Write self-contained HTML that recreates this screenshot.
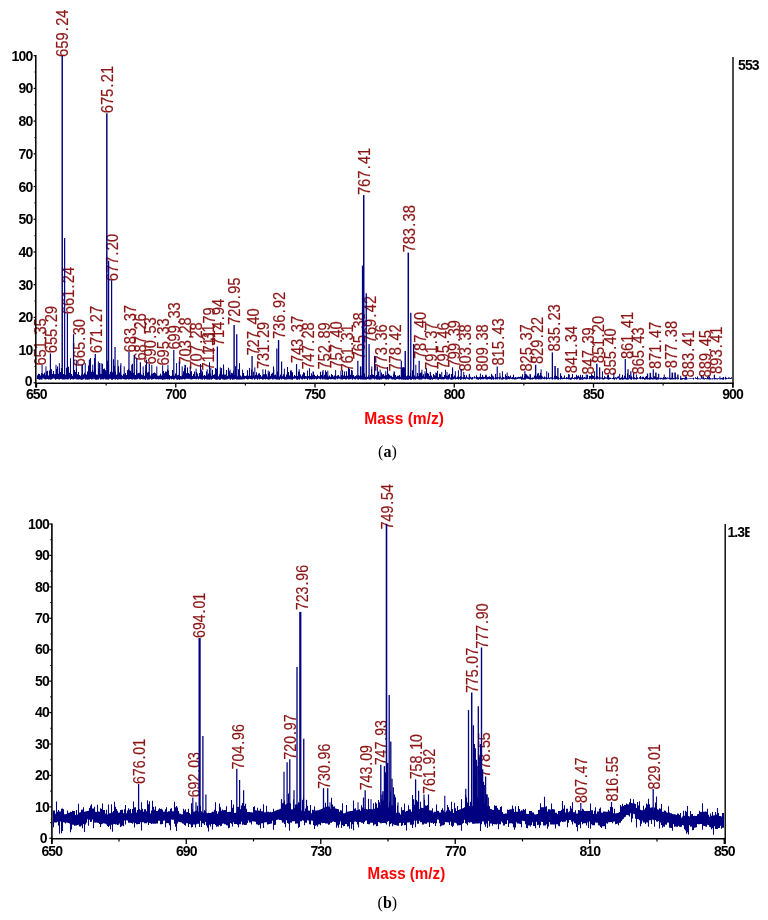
<!DOCTYPE html>
<html lang="en"><head><meta charset="utf-8"><title>Mass spectra</title>
<style>html,body{margin:0;padding:0;background:#fff}body{width:768px;height:920px;overflow:hidden}svg{display:block}</style>
</head><body>
<svg width="768" height="920" viewBox="0 0 768 920">
<defs><clipPath id="clipA"><rect x="730" y="50" width="30" height="30"/></clipPath>
<clipPath id="clipB"><rect x="720" y="515" width="29.6" height="30"/></clipPath></defs>
<rect width="768" height="920" fill="#fff"/>
<g id="chartA">
<g font-family='"Liberation Sans", sans-serif' font-size="16px" fill="#8b1515" stroke="#8b1515" stroke-width="0.2">
<text transform="translate(46.07 365.60) rotate(-90) scale(0.92 1)" dx="0 0 0 1.3 1.3 0">651.35</text>
<text transform="translate(57.08 353.30) rotate(-90) scale(0.92 1)" dx="0 0 0 1.3 1.3 0">655.29</text>
<text transform="translate(68.11 56.90) rotate(-90) scale(0.92 1)" dx="0 0 0 1.3 1.3 0">659.24</text>
<text transform="translate(73.70 314.20) rotate(-90) scale(0.92 1)" dx="0 0 0 1.3 1.3 0">661.24</text>
<text transform="translate(85.04 366.40) rotate(-90) scale(0.92 1)" dx="0 0 0 1.3 1.3 0">665.30</text>
<text transform="translate(101.71 353.30) rotate(-90) scale(0.92 1)" dx="0 0 0 1.3 1.3 0">671.27</text>
<text transform="translate(112.72 113.30) rotate(-90) scale(0.92 1)" dx="0 0 0 1.3 1.3 0">675.21</text>
<text transform="translate(118.28 281.20) rotate(-90) scale(0.92 1)" dx="0 0 0 1.3 1.3 0">677.20</text>
<text transform="translate(135.51 352.40) rotate(-90) scale(0.92 1)" dx="0 0 0 1.3 1.3 0">683.37</text>
<text transform="translate(146.38 360.60) rotate(-90) scale(0.92 1)" dx="0 0 0 1.3 1.3 0">687.26</text>
<text transform="translate(155.51 364.60) rotate(-90) scale(0.92 1)" dx="0 0 0 1.3 1.3 0">690.53</text>
<text transform="translate(168.92 365.60) rotate(-90) scale(0.92 1)" dx="0 0 0 1.3 1.3 0">695.33</text>
<text transform="translate(180.09 349.60) rotate(-90) scale(0.92 1)" dx="0 0 0 1.3 1.3 0">699.33</text>
<text transform="translate(191.13 364.60) rotate(-90) scale(0.92 1)" dx="0 0 0 1.3 1.3 0">703.28</text>
<text transform="translate(202.30 369.60) rotate(-90) scale(0.92 1)" dx="0 0 0 1.3 1.3 0">707.28</text>
<text transform="translate(213.56 370.60) rotate(-90) scale(0.92 1)" dx="0 0 0 1.3 1.3 0">711.31</text>
<text transform="translate(214.90 353.60) rotate(-90) scale(0.92 1)" dx="0 0 0 1.3 1.3 0">711.79</text>
<text transform="translate(223.70 346.10) rotate(-90) scale(0.92 1)" dx="0 0 0 1.3 1.3 0">714.94</text>
<text transform="translate(240.48 324.90) rotate(-90) scale(0.92 1)" dx="0 0 0 1.3 1.3 0">720.95</text>
<text transform="translate(258.50 355.60) rotate(-90) scale(0.92 1)" dx="0 0 0 1.3 1.3 0">727.40</text>
<text transform="translate(269.37 369.10) rotate(-90) scale(0.92 1)" dx="0 0 0 1.3 1.3 0">731.29</text>
<text transform="translate(285.09 339.10) rotate(-90) scale(0.92 1)" dx="0 0 0 1.3 1.3 0">736.92</text>
<text transform="translate(303.11 363.30) rotate(-90) scale(0.92 1)" dx="0 0 0 1.3 1.3 0">743.37</text>
<text transform="translate(314.03 369.60) rotate(-90) scale(0.92 1)" dx="0 0 0 1.3 1.3 0">747.28</text>
<text transform="translate(329.70 369.60) rotate(-90) scale(0.92 1)" dx="0 0 0 1.3 1.3 0">752.89</text>
<text transform="translate(342.30 368.60) rotate(-90) scale(0.92 1)" dx="0 0 0 1.3 1.3 0">757.40</text>
<text transform="translate(353.22 371.60) rotate(-90) scale(0.92 1)" dx="0 0 0 1.3 1.3 0">761.31</text>
<text transform="translate(364.59 359.60) rotate(-90) scale(0.92 1)" dx="0 0 0 1.3 1.3 0">765.38</text>
<text transform="translate(370.26 195.10) rotate(-90) scale(0.92 1)" dx="0 0 0 1.3 1.3 0">767.41</text>
<text transform="translate(375.88 343.30) rotate(-90) scale(0.92 1)" dx="0 0 0 1.3 1.3 0">769.42</text>
<text transform="translate(386.88 371.60) rotate(-90) scale(0.92 1)" dx="0 0 0 1.3 1.3 0">773.36</text>
<text transform="translate(401.02 371.60) rotate(-90) scale(0.92 1)" dx="0 0 0 1.3 1.3 0">778.42</text>
<text transform="translate(414.87 252.50) rotate(-90) scale(0.92 1)" dx="0 0 0 1.3 1.3 0">783.38</text>
<text transform="translate(426.10 359.10) rotate(-90) scale(0.92 1)" dx="0 0 0 1.3 1.3 0">787.40</text>
<text transform="translate(437.19 369.90) rotate(-90) scale(0.92 1)" dx="0 0 0 1.3 1.3 0">791.37</text>
<text transform="translate(448.61 369.60) rotate(-90) scale(0.92 1)" dx="0 0 0 1.3 1.3 0">795.46</text>
<text transform="translate(459.59 367.40) rotate(-90) scale(0.92 1)" dx="0 0 0 1.3 1.3 0">799.39</text>
<text transform="translate(470.74 371.60) rotate(-90) scale(0.92 1)" dx="0 0 0 1.3 1.3 0">803.38</text>
<text transform="translate(487.50 371.60) rotate(-90) scale(0.92 1)" dx="0 0 0 1.3 1.3 0">809.38</text>
<text transform="translate(504.40 365.60) rotate(-90) scale(0.92 1)" dx="0 0 0 1.3 1.3 0">815.43</text>
<text transform="translate(532.16 371.60) rotate(-90) scale(0.92 1)" dx="0 0 0 1.3 1.3 0">825.37</text>
<text transform="translate(542.92 364.10) rotate(-90) scale(0.92 1)" dx="0 0 0 1.3 1.3 0">829.22</text>
<text transform="translate(559.70 351.60) rotate(-90) scale(0.92 1)" dx="0 0 0 1.3 1.3 0">835.23</text>
<text transform="translate(576.77 373.30) rotate(-90) scale(0.92 1)" dx="0 0 0 1.3 1.3 0">841.34</text>
<text transform="translate(593.67 374.60) rotate(-90) scale(0.92 1)" dx="0 0 0 1.3 1.3 0">847.39</text>
<text transform="translate(604.31 363.30) rotate(-90) scale(0.92 1)" dx="0 0 0 1.3 1.3 0">851.20</text>
<text transform="translate(616.04 375.60) rotate(-90) scale(0.92 1)" dx="0 0 0 1.3 1.3 0">855.40</text>
<text transform="translate(632.83 359.10) rotate(-90) scale(0.92 1)" dx="0 0 0 1.3 1.3 0">861.41</text>
<text transform="translate(644.06 374.60) rotate(-90) scale(0.92 1)" dx="0 0 0 1.3 1.3 0">865.43</text>
<text transform="translate(660.93 369.10) rotate(-90) scale(0.92 1)" dx="0 0 0 1.3 1.3 0">871.47</text>
<text transform="translate(677.44 368.30) rotate(-90) scale(0.92 1)" dx="0 0 0 1.3 1.3 0">877.38</text>
<text transform="translate(694.28 377.40) rotate(-90) scale(0.92 1)" dx="0 0 0 1.3 1.3 0">883.41</text>
<text transform="translate(711.16 377.40) rotate(-90) scale(0.92 1)" dx="0 0 0 1.3 1.3 0">889.45</text>
<text transform="translate(722.22 373.90) rotate(-90) scale(0.92 1)" dx="0 0 0 1.3 1.3 0">893.41</text>
</g>
<path d="M37.5 378.96V375.16M38.5 379.28V373.86M39.5 379.66V373.95M40.5 379.60V375.43M41.5 379.56V372.88M42.5 378.62V373.55M43.5 378.59V374.33M44.5 379.37V372.77M45.5 379.35V375.27M46.5 379.04V371.53M47.5 379.08V370.72M48.5 379.47V375.47M49.5 379.34V370.48M50.5 379.36V374.14M51.5 379.42V369.34M52.5 378.70V373.89M53.5 378.59V371.07M54.5 378.84V374.26M55.5 379.66V374.02M56.5 379.05V369.06M57.5 378.91V366.47M58.5 379.18V373.71M59.5 379.16V368.30M60.5 378.90V372.03M61.5 378.77V368.09M62.5 378.94V374.37M63.5 379.51V374.11M64.5 378.83V375.47M65.5 379.26V374.83M66.5 379.19V367.66M67.5 378.77V372.68M68.5 379.23V366.65M69.5 378.61V372.68M70.5 379.44V375.07M71.5 379.03V374.03M72.5 379.22V375.66M73.5 378.62V373.76M74.5 379.00V370.11M75.5 378.68V372.06M76.5 378.79V368.60M77.5 379.58V374.32M78.5 379.62V372.03M79.5 379.31V375.12M80.5 379.53V375.67M81.5 379.67V374.44M82.5 379.53V364.95M83.5 379.29V374.50M84.5 378.57V372.80M85.5 379.60V374.03M86.5 379.40V374.51M87.5 379.67V371.61M88.5 379.53V365.39M89.5 379.10V371.76M90.5 378.91V357.89M91.5 379.51V371.76M92.5 378.81V370.04M93.5 378.78V371.78M94.5 378.78V357.95M95.5 379.44V369.16M96.5 379.67V374.47M97.5 379.41V374.73M98.5 379.19V368.25M99.5 378.61V363.06M100.5 379.44V373.82M101.5 378.99V374.12M102.5 379.15V363.80M103.5 379.60V368.91M104.5 378.81V368.45M105.5 379.50V370.27M106.5 378.79V370.89M107.5 379.24V360.65M108.5 379.51V364.39M109.5 378.67V374.36M110.5 378.76V371.67M111.5 379.30V359.11M112.5 379.68V372.24M113.5 379.10V359.15M114.5 378.71V365.87M115.5 379.41V371.40M116.5 379.03V374.86M117.5 379.55V374.25M118.5 379.18V366.27M119.5 379.22V372.61M120.5 379.10V365.54M121.5 379.20V374.82M122.5 378.79V375.68M123.5 378.88V374.12M124.5 379.11V374.62M125.5 379.58V373.11M126.5 379.39V374.91M127.5 379.06V370.33M128.5 379.20V368.68M129.5 379.12V370.39M130.5 379.09V370.63M131.5 378.90V372.70M132.5 379.40V363.83M133.5 378.74V372.73M134.5 379.20V375.41M135.5 379.62V375.04M136.5 378.68V369.44M137.5 378.95V373.53M138.5 378.60V373.01M139.5 379.25V372.81M140.5 378.75V372.70M141.5 379.11V374.50M142.5 379.34V375.26M143.5 379.07V372.65M144.5 379.32V375.84M145.5 379.63V370.75M146.5 378.59V359.85M147.5 379.65V372.54M148.5 379.55V371.77M149.5 378.77V373.11M150.5 378.65V375.49M151.5 379.60V373.80M152.5 379.22V373.86M153.5 378.98V373.10M154.5 378.73V372.61M155.5 379.18V373.37M156.5 378.65V374.33M157.5 379.10V375.63M158.5 379.52V375.70M159.5 379.35V375.43M160.5 379.37V373.77M161.5 379.31V375.52M162.5 379.68V375.32M163.5 379.48V371.05M164.5 379.58V373.31M165.5 379.14V371.54M166.5 379.12V371.71M167.5 379.31V369.57M168.5 378.98V370.61M169.5 379.64V375.12M170.5 378.86V375.94M171.5 379.60V375.68M172.5 378.94V370.12M173.5 379.37V375.47M174.5 379.19V375.73M175.5 378.59V373.43M176.5 378.60V375.50M177.5 379.70V375.19M178.5 379.13V374.86M179.5 379.69V374.79M180.5 379.25V375.97M181.5 379.35V376.17M182.5 379.10V374.59M183.5 378.89V371.13M184.5 379.33V368.32M185.5 378.88V365.06M186.5 378.75V373.33M187.5 378.87V367.41M188.5 379.10V373.03M189.5 378.78V373.98M190.5 378.68V371.52M191.5 379.44V371.17M192.5 379.29V375.94M193.5 379.06V374.03M194.5 378.93V371.46M195.5 378.79V376.32M196.5 379.09V371.91M197.5 378.86V373.41M198.5 379.40V376.15M199.5 378.86V372.97M200.5 379.26V363.97M201.5 378.83V374.19M202.5 379.61V371.56M203.5 378.85V375.71M204.5 379.69V374.88M205.5 378.94V375.69M206.5 379.37V371.53M207.5 379.17V375.19M208.5 379.47V373.52M209.5 379.68V362.29M210.5 378.60V373.52M211.5 379.46V375.74M212.5 379.04V369.77M213.5 378.62V375.09M214.5 379.12V374.34M215.5 379.44V367.94M216.5 379.67V368.80M217.5 379.19V375.22M218.5 379.31V376.13M219.5 379.70V374.35M220.5 379.56V371.29M221.5 378.67V368.08M222.5 379.25V374.38M223.5 379.29V364.45M224.5 379.65V374.38M225.5 379.38V374.44M226.5 379.40V369.97M227.5 379.28V375.66M228.5 378.78V367.65M229.5 378.63V371.25M230.5 379.64V374.79M231.5 378.84V372.72M232.5 379.64V373.23M233.5 379.16V370.57M234.5 378.86V375.10M235.5 378.95V366.24M236.5 379.25V375.10M237.5 379.46V376.20M238.5 379.45V369.25M239.5 379.19V367.42M240.5 379.60V375.57M241.5 379.43V376.38M242.5 378.69V375.21M243.5 379.23V372.91M244.5 379.32V375.69M245.5 378.60V375.94M246.5 378.98V375.39M247.5 379.39V370.36M248.5 379.19V375.65M249.5 378.71V368.07M250.5 378.89V375.83M251.5 379.03V369.45M252.5 378.65V375.68M253.5 378.59V371.63M254.5 379.52V376.37M255.5 378.63V374.99M256.5 378.83V372.28M257.5 379.66V375.31M258.5 378.65V373.54M259.5 379.55V373.33M260.5 378.91V375.12M261.5 379.10V376.48M262.5 379.45V375.72M263.5 379.36V374.23M264.5 378.97V374.36M265.5 379.43V369.58M266.5 378.90V374.37M267.5 379.13V376.61M268.5 379.41V373.03M269.5 379.44V371.53M270.5 379.22V375.87M271.5 378.79V373.71M272.5 379.47V372.80M273.5 378.77V366.49M274.5 378.83V375.20M275.5 379.14V374.43M276.5 379.23V376.16M277.5 379.53V371.52M278.5 378.59V376.19M279.5 379.63V376.57M280.5 378.69V374.58M281.5 378.64V371.41M282.5 378.64V376.26M283.5 378.94V374.26M284.5 379.32V375.83M285.5 379.38V376.70M286.5 379.56V374.47M287.5 379.29V367.09M288.5 379.21V371.98M289.5 379.28V375.61M290.5 379.29V370.80M291.5 379.23V371.37M292.5 379.65V372.16M293.5 378.65V376.58M294.5 378.68V374.99M295.5 378.61V376.10M296.5 378.88V373.65M297.5 379.70V376.10M298.5 378.98V371.77M299.5 379.43V371.45M300.5 378.61V374.53M301.5 379.21V376.16M302.5 379.49V374.61M303.5 378.76V372.32M304.5 379.33V372.71M305.5 378.81V375.92M306.5 378.84V376.30M307.5 379.66V376.61M308.5 378.58V375.89M309.5 379.40V368.22M310.5 379.13V375.89M311.5 379.43V373.21M312.5 378.93V375.35M313.5 378.94V372.08M314.5 379.37V374.86M315.5 378.86V375.93M316.5 379.42V376.22M317.5 379.04V374.77M318.5 378.57V375.89M319.5 378.78V376.26M320.5 379.58V371.72M321.5 378.74V374.94M322.5 379.37V371.58M323.5 378.59V376.37M324.5 379.28V374.70M325.5 379.40V370.22M326.5 379.58V371.90M327.5 379.45V375.41M328.5 379.47V376.49M329.5 378.96V375.47M330.5 379.33V376.79M331.5 379.34V374.06M332.5 379.08V375.04M333.5 379.25V376.59M334.5 379.60V375.40M335.5 379.23V375.27M336.5 378.62V376.14M337.5 379.29V375.57M338.5 378.57V374.91M339.5 378.87V376.39M340.5 378.67V376.82M341.5 379.24V375.02M342.5 379.52V370.34M343.5 378.97V375.62M344.5 378.99V371.59M345.5 379.53V375.74M346.5 378.65V375.71M347.5 378.78V375.75M348.5 379.56V367.88M349.5 379.15V368.73M350.5 379.26V374.84M351.5 378.76V369.92M352.5 379.45V375.16M353.5 378.76V375.03M354.5 379.25V376.40M355.5 379.56V376.05M356.5 378.68V375.31M357.5 378.84V375.67M358.5 379.57V375.08M359.5 378.99V375.70M360.5 379.04V375.99M361.5 379.19V375.48M362.5 379.00V376.85M363.5 378.83V376.40M364.5 379.50V373.54M365.5 379.55V376.68M366.5 379.20V376.72M367.5 378.98V376.83M368.5 378.82V375.36M369.5 379.13V376.81M370.5 379.55V374.91M371.5 378.87V368.99M372.5 378.58V374.30M373.5 378.66V374.91M374.5 378.64V375.27M375.5 378.84V376.20M376.5 379.39V375.06M377.5 379.13V374.47M378.5 379.40V371.57M379.5 379.66V376.29M380.5 378.63V376.62M381.5 379.51V372.53M382.5 379.10V374.58M383.5 378.71V373.95M384.5 378.70V375.76M385.5 378.98V374.91M386.5 379.40V375.32M387.5 379.29V367.12M388.5 379.50V373.77M389.5 378.77V374.80M390.5 378.58V375.67M391.5 379.34V375.63M392.5 379.53V376.93M393.5 379.12V373.84M394.5 379.44V371.98M395.5 379.70V374.90M396.5 379.29V376.79M397.5 379.03V375.82M398.5 379.16V375.74M399.5 379.42V375.11M400.5 378.97V376.63M401.5 379.24V370.08M402.5 378.97V376.63M403.5 378.97V376.32M404.5 378.87V375.14M405.5 379.65V375.21M406.5 379.43V376.22M407.5 379.69V375.48M408.5 379.54V375.16M409.5 379.12V375.83M410.5 379.50V373.02M411.5 379.64V376.45M412.5 378.89V370.23M413.5 378.85V375.38M414.5 379.19V375.59M415.5 379.44V376.86M416.5 378.85V376.40M417.5 378.89V373.00M418.5 379.20V375.98M419.5 379.40V373.82M420.5 379.45V372.74M421.5 379.40V372.62M422.5 378.63V375.63M423.5 378.70V374.33M424.5 378.67V376.63M425.5 378.94V373.45M426.5 378.74V368.19M427.5 379.20V373.11M428.5 379.35V373.85M429.5 379.61V375.96M430.5 379.67V372.51M431.5 379.31V375.44M432.5 379.65V377.14M433.5 378.91V373.91M434.5 379.03V375.25M435.5 378.77V375.76M436.5 378.71V373.05M437.5 379.58V370.76M438.5 379.66V376.90M439.5 378.98V373.79M440.5 379.37V374.22M441.5 378.84V377.17M442.5 379.22V376.81M443.5 379.38V376.93M444.5 379.34V374.95M445.5 378.73V369.74M446.5 379.23V375.71M447.5 379.31V376.17M448.5 379.45V374.76M449.5 378.77V373.66M450.5 379.47V377.47M451.5 379.70V374.02M452.5 378.79V376.75M453.5 379.31V376.77M454.5 378.63V375.53M455.5 378.90V377.23M456.5 378.98V377.41M457.5 378.91V376.43M458.5 379.30V375.01M459.5 378.69V377.05M460.5 379.67V376.37M461.5 378.67V377.28M462.5 378.69V377.14M463.5 379.10V377.04M464.5 378.96V375.06M465.5 379.52V377.27M466.5 378.86V375.30M467.5 378.82V377.16M468.5 379.17V377.59M469.5 379.48V374.37M470.5 378.74V376.85M471.5 379.42V377.56M472.5 379.52V377.09M473.5 378.59V377.52M474.5 378.61V376.32M475.5 378.58V377.28M476.5 379.21V375.33M477.5 379.58V376.96M478.5 379.66V377.29M479.5 378.91V376.78M480.5 379.17V376.98M481.5 379.24V377.03M482.5 379.21V375.10M483.5 379.22V376.85M484.5 378.70V376.89M485.5 378.73V375.45M486.5 379.18V375.55M487.5 379.59V377.02M488.5 378.89V376.83M489.5 379.22V376.18M490.5 379.23V377.04M491.5 379.49V375.15M492.5 379.26V375.39M493.5 379.66V376.62M494.5 378.81V377.63M495.5 379.59V374.12M496.5 378.88V377.17M497.5 378.76V377.05M498.5 378.62V377.34M499.5 379.25V377.01M500.5 378.58V376.45M501.5 379.39V377.78M502.5 379.22V377.83M503.5 379.30V377.01M504.5 378.86V377.58M505.5 379.45V374.22M506.5 379.46V376.08M507.5 378.78V376.94M508.5 379.06V375.98M509.5 379.30V376.72M510.5 378.77V375.48M511.5 379.08V377.52M512.5 379.30V376.89M513.5 379.27V374.77M514.5 379.49V377.38M515.5 379.38V377.04M516.5 379.15V377.53M517.5 378.95V377.15M518.5 378.73V376.81M519.5 378.67V376.94M520.5 378.75V376.54M521.5 379.69V376.73M522.5 379.42V374.19M523.5 379.43V377.74M524.5 379.53V376.27M525.5 379.51V373.99M526.5 378.81V374.32M527.5 378.80V375.52M528.5 378.91V376.51M529.5 379.20V377.08M530.5 379.40V374.46M531.5 379.14V377.77M532.5 379.54V377.41M533.5 379.09V377.38M534.5 378.74V375.42M535.5 378.94V377.31M536.5 379.22V376.31M537.5 378.98V373.65M538.5 379.01V376.80M539.5 379.32V375.57M540.5 379.15V372.85M541.5 378.88V375.43M542.5 378.72V376.40M543.5 379.10V377.44M544.5 379.20V376.58M545.5 378.76V377.36M546.5 379.24V377.07M547.5 379.12V377.67M548.5 378.80V372.68M549.5 379.36V377.63M550.5 378.81V377.29M551.5 378.69V377.20M552.5 379.36V377.93M553.5 378.65V377.78M554.5 378.80V376.04M555.5 379.00V374.62M556.5 379.02V376.00M557.5 378.94V376.65M558.5 379.58V377.19M559.5 378.82V377.96M560.5 379.28V374.60M561.5 379.06V375.92M562.5 379.22V377.69M563.5 378.97V377.55M564.5 379.05V375.58M565.5 378.78V377.89M566.5 379.19V377.06M567.5 379.03V377.61M568.5 379.16V374.17M569.5 378.97V377.91M570.5 379.68V377.87M571.5 379.56V377.32M572.5 378.71V374.03M573.5 378.88V378.01M574.5 379.49V377.28M575.5 378.89V377.25M576.5 379.60V374.64M577.5 379.18V376.13M578.5 378.60V375.38M579.5 379.68V377.02M580.5 379.61V376.01M581.5 379.51V377.32M582.5 379.63V375.07M583.5 379.20V377.48M584.5 378.79V376.88M585.5 378.98V377.42M586.5 378.81V377.68M587.5 379.06V374.67M588.5 378.59V378.00M589.5 379.32V376.06M590.5 378.75V375.89M591.5 379.21V376.71M592.5 378.92V375.32M593.5 378.78V376.01M594.5 379.40V378.08M595.5 378.77V377.51M596.5 378.75V375.84M597.5 379.05V376.07M598.5 378.78V377.27M599.5 379.31V376.03M600.5 378.79V377.56M601.5 378.64V377.38M602.5 378.93V377.52M603.5 379.41V377.90M604.5 379.18V376.21M605.5 378.82V377.34M606.5 378.68V377.56M607.5 379.16V375.25M608.5 379.48V377.93M609.5 379.29V377.45M610.5 379.11V377.74M611.5 378.57V378.08M612.5 378.98V378.02M613.5 379.02V377.01M614.5 379.68V377.64M615.5 378.71V377.21M616.5 379.40V377.61M617.5 378.62V376.72M618.5 378.60V376.28M619.5 379.47V378.10M620.5 379.64V378.06M621.5 379.18V377.35M622.5 379.63V374.86M623.5 379.56V377.79M624.5 379.06V375.77M625.5 378.94V376.17M626.5 379.52V377.75M627.5 379.45V373.24M628.5 379.30V377.90M629.5 378.75V374.95M630.5 378.89V377.46M631.5 379.64V376.19M632.5 378.63V377.50M633.5 379.03V376.96M634.5 379.33V377.18M635.5 379.15V378.06M636.5 379.54V377.97M637.5 378.88V377.29M638.5 378.64V378.15M639.5 378.71V377.37M640.5 379.19V376.06M641.5 378.74V377.39M642.5 379.31V376.84M643.5 378.99V376.82M644.5 379.64V378.00M645.5 379.54V376.75M646.5 379.23V375.94M647.5 378.74V377.97M648.5 379.14V378.06M649.5 379.57V377.45M650.5 378.68V375.00M651.5 379.16V377.17M652.5 379.47V378.02M653.5 378.56V377.43M654.5 379.37V376.31M655.5 378.87V376.38M656.5 379.68V377.48M657.5 379.54V377.14M658.5 379.10V377.62M659.5 378.66V377.94M660.5 379.54V377.85M661.5 378.89V377.71M662.5 379.60V378.24M663.5 379.39V377.10M664.5 378.89V377.86M665.5 379.47V377.06M666.5 379.24V377.80M667.5 378.78V377.57M668.5 378.72V377.75M669.5 378.66V378.34M670.5 379.40V377.75M671.5 379.28V377.79M672.5 379.02V378.12M673.5 379.19V378.03M674.5 378.89V378.31M675.5 379.33V377.03M676.5 378.85V377.44M677.5 378.61V377.85M678.5 379.10V378.09M679.5 378.60V378.41M680.5 379.58V378.32M681.5 379.67V377.93M682.5 379.48V378.02M683.5 379.04V378.09M684.5 379.58V378.04M685.5 379.65V376.52M686.5 379.13V378.19M687.5 379.24V378.41M688.5 378.72V378.15M689.5 378.85V378.17M690.5 378.63V378.05M691.5 378.74V378.27M692.5 378.63V378.29M693.5 379.43V377.73M694.5 378.58V378.27M695.5 378.77V377.34M696.5 379.11V377.92M697.5 379.42V376.51M698.5 379.29V378.16M699.5 379.21V378.47M700.5 379.54V378.49M701.5 378.63V375.71M702.5 378.69V377.41M703.5 378.97V377.25M704.5 379.39V378.13M705.5 378.99V378.00M706.5 379.21V378.22M707.5 379.35V377.04M708.5 379.02V377.88M709.5 379.39V376.85M710.5 379.53V378.21M711.5 379.37V378.43M712.5 379.42V378.35M713.5 378.74V378.21M714.5 378.96V377.57M715.5 379.18V378.12M716.5 379.17V378.17M717.5 379.45V378.37M718.5 379.03V378.29M719.5 378.72V378.31M720.5 379.14V378.20M721.5 379.36V377.96M722.5 379.62V377.85M723.5 379.63V376.92M724.5 378.86V378.26M725.5 378.61V378.38M726.5 379.32V377.85M727.5 379.00V378.14M728.5 379.11V377.40M729.5 378.84V377.45M730.5 378.89V378.08M731.5 378.71V377.17" fill="none" stroke="#000080" stroke-width="1.08"/>
<line x1="42.07" y1="379.50" x2="42.07" y2="364.75" stroke="#000080" stroke-width="1.00"/>
<line x1="45.97" y1="379.50" x2="45.97" y2="366.38" stroke="#000080" stroke-width="1.00"/>
<line x1="50.42" y1="379.50" x2="50.42" y2="353.38" stroke="#000080" stroke-width="1.20"/>
<line x1="56.00" y1="379.50" x2="56.00" y2="364.75" stroke="#000080" stroke-width="1.00"/>
<line x1="59.34" y1="379.50" x2="59.34" y2="363.12" stroke="#000080" stroke-width="1.00"/>
<line x1="62.23" y1="379.50" x2="62.23" y2="56.00" stroke="#000080" stroke-width="1.45"/>
<line x1="64.63" y1="379.50" x2="64.63" y2="238.00" stroke="#000080" stroke-width="1.20"/>
<line x1="67.41" y1="379.50" x2="67.41" y2="313.40" stroke="#000080" stroke-width="1.20"/>
<line x1="70.48" y1="379.50" x2="70.48" y2="358.25" stroke="#000080" stroke-width="1.00"/>
<line x1="73.54" y1="379.50" x2="73.54" y2="334.20" stroke="#000080" stroke-width="1.20"/>
<line x1="76.33" y1="379.50" x2="76.33" y2="359.88" stroke="#000080" stroke-width="1.00"/>
<line x1="81.90" y1="379.50" x2="81.90" y2="364.75" stroke="#000080" stroke-width="1.00"/>
<line x1="85.24" y1="379.50" x2="85.24" y2="363.12" stroke="#000080" stroke-width="1.00"/>
<line x1="89.42" y1="379.50" x2="89.42" y2="359.55" stroke="#000080" stroke-width="1.20"/>
<line x1="92.76" y1="379.50" x2="92.76" y2="364.75" stroke="#000080" stroke-width="1.00"/>
<line x1="95.26" y1="379.50" x2="95.26" y2="354.02" stroke="#000080" stroke-width="1.30"/>
<line x1="98.33" y1="379.50" x2="98.33" y2="361.50" stroke="#000080" stroke-width="1.00"/>
<line x1="101.11" y1="379.50" x2="101.11" y2="363.12" stroke="#000080" stroke-width="1.00"/>
<line x1="106.82" y1="379.50" x2="106.82" y2="113.20" stroke="#000080" stroke-width="1.45"/>
<line x1="108.63" y1="379.50" x2="108.63" y2="260.75" stroke="#000080" stroke-width="1.20"/>
<line x1="111.61" y1="379.50" x2="111.61" y2="280.25" stroke="#000080" stroke-width="1.20"/>
<line x1="115.04" y1="379.50" x2="115.04" y2="346.88" stroke="#000080" stroke-width="1.20"/>
<line x1="117.82" y1="379.50" x2="117.82" y2="359.88" stroke="#000080" stroke-width="1.00"/>
<line x1="120.89" y1="379.50" x2="120.89" y2="363.12" stroke="#000080" stroke-width="1.00"/>
<line x1="124.23" y1="379.50" x2="124.23" y2="366.38" stroke="#000080" stroke-width="1.00"/>
<line x1="128.96" y1="379.50" x2="128.96" y2="351.75" stroke="#000080" stroke-width="1.20"/>
<line x1="131.75" y1="379.50" x2="131.75" y2="364.75" stroke="#000080" stroke-width="1.00"/>
<line x1="134.25" y1="379.50" x2="134.25" y2="355.00" stroke="#000080" stroke-width="1.30"/>
<line x1="136.76" y1="379.50" x2="136.76" y2="358.25" stroke="#000080" stroke-width="1.20"/>
<line x1="140.38" y1="379.50" x2="140.38" y2="362.15" stroke="#000080" stroke-width="1.20"/>
<line x1="143.17" y1="379.50" x2="143.17" y2="366.38" stroke="#000080" stroke-width="1.00"/>
<line x1="145.67" y1="379.50" x2="145.67" y2="364.75" stroke="#000080" stroke-width="1.00"/>
<line x1="149.29" y1="379.50" x2="149.29" y2="364.10" stroke="#000080" stroke-width="1.20"/>
<line x1="151.80" y1="379.50" x2="151.80" y2="364.75" stroke="#000080" stroke-width="1.00"/>
<line x1="156.81" y1="379.50" x2="156.81" y2="366.38" stroke="#000080" stroke-width="1.00"/>
<line x1="162.66" y1="379.50" x2="162.66" y2="365.40" stroke="#000080" stroke-width="1.00"/>
<line x1="167.95" y1="379.50" x2="167.95" y2="364.75" stroke="#000080" stroke-width="1.00"/>
<line x1="173.80" y1="379.50" x2="173.80" y2="350.12" stroke="#000080" stroke-width="1.20"/>
<line x1="176.59" y1="379.50" x2="176.59" y2="363.12" stroke="#000080" stroke-width="1.00"/>
<line x1="179.37" y1="379.50" x2="179.37" y2="361.50" stroke="#000080" stroke-width="1.20"/>
<line x1="182.16" y1="379.50" x2="182.16" y2="366.38" stroke="#000080" stroke-width="1.00"/>
<line x1="184.94" y1="379.50" x2="184.94" y2="364.75" stroke="#000080" stroke-width="1.00"/>
<line x1="190.23" y1="379.50" x2="190.23" y2="366.38" stroke="#000080" stroke-width="1.00"/>
<line x1="196.08" y1="379.50" x2="196.08" y2="368.65" stroke="#000080" stroke-width="1.00"/>
<line x1="201.65" y1="379.50" x2="201.65" y2="369.62" stroke="#000080" stroke-width="1.00"/>
<line x1="207.22" y1="379.50" x2="207.22" y2="369.30" stroke="#000080" stroke-width="1.00"/>
<line x1="210.84" y1="379.50" x2="210.84" y2="368.00" stroke="#000080" stroke-width="1.00"/>
<line x1="217.36" y1="379.50" x2="217.36" y2="346.55" stroke="#000080" stroke-width="1.30"/>
<line x1="220.31" y1="379.50" x2="220.31" y2="367.35" stroke="#000080" stroke-width="1.00"/>
<line x1="223.65" y1="379.50" x2="223.65" y2="368.65" stroke="#000080" stroke-width="1.00"/>
<line x1="230.06" y1="379.50" x2="230.06" y2="369.62" stroke="#000080" stroke-width="1.00"/>
<line x1="234.10" y1="379.50" x2="234.10" y2="325.10" stroke="#000080" stroke-width="1.40"/>
<line x1="236.74" y1="379.50" x2="236.74" y2="334.20" stroke="#000080" stroke-width="1.30"/>
<line x1="239.53" y1="379.50" x2="239.53" y2="363.12" stroke="#000080" stroke-width="1.00"/>
<line x1="242.59" y1="379.50" x2="242.59" y2="369.62" stroke="#000080" stroke-width="1.00"/>
<line x1="252.06" y1="379.50" x2="252.06" y2="355.98" stroke="#000080" stroke-width="1.30"/>
<line x1="254.84" y1="379.50" x2="254.84" y2="367.35" stroke="#000080" stroke-width="1.00"/>
<line x1="262.92" y1="379.50" x2="262.92" y2="369.30" stroke="#000080" stroke-width="1.00"/>
<line x1="268.21" y1="379.50" x2="268.21" y2="370.60" stroke="#000080" stroke-width="1.00"/>
<line x1="273.78" y1="379.50" x2="273.78" y2="369.62" stroke="#000080" stroke-width="1.00"/>
<line x1="276.85" y1="379.50" x2="276.85" y2="348.50" stroke="#000080" stroke-width="1.20"/>
<line x1="278.57" y1="379.50" x2="278.57" y2="340.05" stroke="#000080" stroke-width="1.40"/>
<line x1="281.58" y1="379.50" x2="281.58" y2="361.50" stroke="#000080" stroke-width="1.20"/>
<line x1="284.37" y1="379.50" x2="284.37" y2="368.65" stroke="#000080" stroke-width="1.00"/>
<line x1="291.05" y1="379.50" x2="291.05" y2="369.95" stroke="#000080" stroke-width="1.00"/>
<line x1="296.54" y1="379.50" x2="296.54" y2="364.10" stroke="#000080" stroke-width="1.20"/>
<line x1="299.13" y1="379.50" x2="299.13" y2="369.30" stroke="#000080" stroke-width="1.00"/>
<line x1="307.48" y1="379.50" x2="307.48" y2="370.60" stroke="#000080" stroke-width="1.00"/>
<line x1="313.05" y1="379.50" x2="313.05" y2="371.25" stroke="#000080" stroke-width="1.00"/>
<line x1="323.08" y1="379.50" x2="323.08" y2="369.95" stroke="#000080" stroke-width="1.00"/>
<line x1="327.81" y1="379.50" x2="327.81" y2="370.60" stroke="#000080" stroke-width="1.00"/>
<line x1="335.61" y1="379.50" x2="335.61" y2="369.95" stroke="#000080" stroke-width="1.00"/>
<line x1="340.90" y1="379.50" x2="340.90" y2="370.60" stroke="#000080" stroke-width="1.00"/>
<line x1="346.47" y1="379.50" x2="346.47" y2="371.25" stroke="#000080" stroke-width="1.00"/>
<line x1="352.32" y1="379.50" x2="352.32" y2="370.60" stroke="#000080" stroke-width="1.00"/>
<line x1="357.83" y1="379.50" x2="357.83" y2="360.85" stroke="#000080" stroke-width="1.20"/>
<line x1="360.67" y1="379.50" x2="360.67" y2="366.38" stroke="#000080" stroke-width="1.50"/>
<line x1="362.48" y1="379.50" x2="362.48" y2="265.62" stroke="#000080" stroke-width="1.20"/>
<line x1="363.74" y1="379.50" x2="363.74" y2="195.10" stroke="#000080" stroke-width="1.50"/>
<line x1="366.24" y1="379.50" x2="366.24" y2="293.25" stroke="#000080" stroke-width="1.30"/>
<line x1="369.08" y1="379.50" x2="369.08" y2="343.95" stroke="#000080" stroke-width="1.30"/>
<line x1="371.81" y1="379.50" x2="371.81" y2="366.38" stroke="#000080" stroke-width="1.00"/>
<line x1="374.60" y1="379.50" x2="374.60" y2="355.98" stroke="#000080" stroke-width="1.20"/>
<line x1="377.38" y1="379.50" x2="377.38" y2="366.38" stroke="#000080" stroke-width="1.00"/>
<line x1="380.17" y1="379.50" x2="380.17" y2="369.62" stroke="#000080" stroke-width="1.00"/>
<line x1="385.74" y1="379.50" x2="385.74" y2="371.25" stroke="#000080" stroke-width="1.00"/>
<line x1="394.09" y1="379.50" x2="394.09" y2="371.25" stroke="#000080" stroke-width="1.00"/>
<line x1="401.34" y1="379.50" x2="401.34" y2="360.85" stroke="#000080" stroke-width="1.20"/>
<line x1="403.01" y1="379.50" x2="403.01" y2="367.35" stroke="#000080" stroke-width="2.00"/>
<line x1="405.23" y1="379.50" x2="405.23" y2="351.10" stroke="#000080" stroke-width="1.40"/>
<line x1="404.12" y1="379.50" x2="404.12" y2="367.35" stroke="#000080" stroke-width="2.00"/>
<line x1="408.30" y1="379.50" x2="408.30" y2="252.62" stroke="#000080" stroke-width="1.50"/>
<line x1="410.80" y1="379.50" x2="410.80" y2="312.75" stroke="#000080" stroke-width="1.30"/>
<line x1="413.59" y1="379.50" x2="413.59" y2="343.95" stroke="#000080" stroke-width="1.30"/>
<line x1="415.82" y1="379.50" x2="415.82" y2="364.75" stroke="#000080" stroke-width="1.00"/>
<line x1="419.16" y1="379.50" x2="419.16" y2="360.85" stroke="#000080" stroke-width="1.20"/>
<line x1="421.94" y1="379.50" x2="421.94" y2="369.62" stroke="#000080" stroke-width="1.00"/>
<line x1="425.01" y1="379.50" x2="425.01" y2="371.25" stroke="#000080" stroke-width="1.00"/>
<line x1="430.30" y1="379.50" x2="430.30" y2="371.90" stroke="#000080" stroke-width="1.00"/>
<line x1="435.87" y1="379.50" x2="435.87" y2="372.55" stroke="#000080" stroke-width="1.00"/>
<line x1="441.72" y1="379.50" x2="441.72" y2="371.90" stroke="#000080" stroke-width="1.00"/>
<line x1="447.01" y1="379.50" x2="447.01" y2="371.90" stroke="#000080" stroke-width="1.00"/>
<line x1="452.55" y1="379.50" x2="452.55" y2="367.35" stroke="#000080" stroke-width="1.20"/>
<line x1="455.36" y1="379.50" x2="455.36" y2="371.25" stroke="#000080" stroke-width="1.00"/>
<line x1="458.43" y1="379.50" x2="458.43" y2="370.27" stroke="#000080" stroke-width="1.00"/>
<line x1="461.21" y1="379.50" x2="461.21" y2="368.98" stroke="#000080" stroke-width="1.20"/>
<line x1="463.72" y1="379.50" x2="463.72" y2="371.90" stroke="#000080" stroke-width="1.00"/>
<line x1="469.29" y1="379.50" x2="469.29" y2="373.85" stroke="#000080" stroke-width="1.00"/>
<line x1="480.43" y1="379.50" x2="480.43" y2="373.52" stroke="#000080" stroke-width="1.00"/>
<line x1="486.00" y1="379.50" x2="486.00" y2="374.50" stroke="#000080" stroke-width="1.00"/>
<line x1="491.57" y1="379.50" x2="491.57" y2="373.85" stroke="#000080" stroke-width="1.00"/>
<line x1="497.22" y1="379.50" x2="497.22" y2="366.38" stroke="#000080" stroke-width="1.20"/>
<line x1="499.92" y1="379.50" x2="499.92" y2="372.88" stroke="#000080" stroke-width="1.00"/>
<line x1="502.43" y1="379.50" x2="502.43" y2="371.25" stroke="#000080" stroke-width="1.00"/>
<line x1="507.17" y1="379.50" x2="507.17" y2="372.55" stroke="#000080" stroke-width="1.00"/>
<line x1="524.91" y1="379.50" x2="524.91" y2="371.25" stroke="#000080" stroke-width="1.20"/>
<line x1="530.00" y1="379.50" x2="530.00" y2="373.85" stroke="#000080" stroke-width="1.00"/>
<line x1="535.63" y1="379.50" x2="535.63" y2="364.75" stroke="#000080" stroke-width="1.40"/>
<line x1="538.36" y1="379.50" x2="538.36" y2="372.88" stroke="#000080" stroke-width="1.00"/>
<line x1="541.14" y1="379.50" x2="541.14" y2="369.30" stroke="#000080" stroke-width="1.00"/>
<line x1="546.71" y1="379.50" x2="546.71" y2="371.25" stroke="#000080" stroke-width="1.00"/>
<line x1="552.37" y1="379.50" x2="552.37" y2="352.40" stroke="#000080" stroke-width="1.30"/>
<line x1="555.07" y1="379.50" x2="555.07" y2="366.05" stroke="#000080" stroke-width="1.50"/>
<line x1="557.85" y1="379.50" x2="557.85" y2="368.00" stroke="#000080" stroke-width="1.30"/>
<line x1="560.64" y1="379.50" x2="560.64" y2="373.20" stroke="#000080" stroke-width="1.00"/>
<line x1="569.27" y1="379.50" x2="569.27" y2="374.50" stroke="#000080" stroke-width="1.00"/>
<line x1="580.41" y1="379.50" x2="580.41" y2="374.82" stroke="#000080" stroke-width="1.00"/>
<line x1="586.26" y1="379.50" x2="586.26" y2="374.50" stroke="#000080" stroke-width="1.00"/>
<line x1="591.55" y1="379.50" x2="591.55" y2="373.85" stroke="#000080" stroke-width="1.00"/>
<line x1="594.61" y1="379.50" x2="594.61" y2="371.25" stroke="#000080" stroke-width="1.00"/>
<line x1="596.84" y1="379.50" x2="596.84" y2="363.77" stroke="#000080" stroke-width="1.40"/>
<line x1="599.63" y1="379.50" x2="599.63" y2="367.35" stroke="#000080" stroke-width="1.30"/>
<line x1="602.41" y1="379.50" x2="602.41" y2="371.25" stroke="#000080" stroke-width="1.00"/>
<line x1="608.54" y1="379.50" x2="608.54" y2="374.82" stroke="#000080" stroke-width="1.00"/>
<line x1="613.83" y1="379.50" x2="613.83" y2="372.55" stroke="#000080" stroke-width="1.00"/>
<line x1="619.68" y1="379.50" x2="619.68" y2="373.85" stroke="#000080" stroke-width="1.00"/>
<line x1="625.28" y1="379.50" x2="625.28" y2="358.90" stroke="#000080" stroke-width="1.20"/>
<line x1="628.03" y1="379.50" x2="628.03" y2="369.30" stroke="#000080" stroke-width="1.20"/>
<line x1="630.82" y1="379.50" x2="630.82" y2="371.25" stroke="#000080" stroke-width="1.20"/>
<line x1="633.60" y1="379.50" x2="633.60" y2="373.20" stroke="#000080" stroke-width="1.20"/>
<line x1="636.39" y1="379.50" x2="636.39" y2="374.50" stroke="#000080" stroke-width="1.00"/>
<line x1="647.53" y1="379.50" x2="647.53" y2="373.52" stroke="#000080" stroke-width="1.30"/>
<line x1="650.31" y1="379.50" x2="650.31" y2="372.88" stroke="#000080" stroke-width="1.50"/>
<line x1="653.29" y1="379.50" x2="653.29" y2="369.30" stroke="#000080" stroke-width="1.20"/>
<line x1="655.88" y1="379.50" x2="655.88" y2="372.55" stroke="#000080" stroke-width="1.50"/>
<line x1="658.67" y1="379.50" x2="658.67" y2="373.85" stroke="#000080" stroke-width="1.20"/>
<line x1="664.24" y1="379.50" x2="664.24" y2="374.50" stroke="#000080" stroke-width="1.00"/>
<line x1="669.75" y1="379.50" x2="669.75" y2="368.32" stroke="#000080" stroke-width="1.20"/>
<line x1="672.32" y1="379.50" x2="672.32" y2="372.55" stroke="#000080" stroke-width="1.60"/>
<line x1="675.10" y1="379.50" x2="675.10" y2="372.55" stroke="#000080" stroke-width="1.60"/>
<line x1="677.89" y1="379.50" x2="677.89" y2="374.50" stroke="#000080" stroke-width="1.40"/>
<line x1="680.67" y1="379.50" x2="680.67" y2="375.80" stroke="#000080" stroke-width="1.00"/>
<line x1="686.52" y1="379.50" x2="686.52" y2="376.77" stroke="#000080" stroke-width="1.00"/>
<line x1="703.23" y1="379.50" x2="703.23" y2="376.45" stroke="#000080" stroke-width="1.00"/>
<line x1="708.80" y1="379.50" x2="708.80" y2="375.80" stroke="#000080" stroke-width="1.00"/>
<line x1="714.37" y1="379.50" x2="714.37" y2="374.82" stroke="#000080" stroke-width="1.20"/>
<line x1="719.94" y1="379.50" x2="719.94" y2="376.45" stroke="#000080" stroke-width="1.00"/>
<line x1="725.51" y1="379.50" x2="725.51" y2="376.77" stroke="#000080" stroke-width="1.00"/>
<g stroke="#000" fill="none">
<line x1="35.8" y1="55.0" x2="35.8" y2="387.6" stroke-width="1.5"/>
<line x1="35.1" y1="383.2" x2="733.7" y2="383.2" stroke-width="1.4"/>
<line x1="733" y1="57" x2="733" y2="387.6" stroke-width="1.4"/>
<line x1="33.6" y1="382.80" x2="35.8" y2="382.80" stroke-width="1.2"/>
<line x1="34.5" y1="366.44" x2="35.8" y2="366.44" stroke-width="1.1"/>
<line x1="33.6" y1="350.09" x2="35.8" y2="350.09" stroke-width="1.2"/>
<line x1="34.5" y1="333.74" x2="35.8" y2="333.74" stroke-width="1.1"/>
<line x1="33.6" y1="317.38" x2="35.8" y2="317.38" stroke-width="1.2"/>
<line x1="34.5" y1="301.03" x2="35.8" y2="301.03" stroke-width="1.1"/>
<line x1="33.6" y1="284.67" x2="35.8" y2="284.67" stroke-width="1.2"/>
<line x1="34.5" y1="268.31" x2="35.8" y2="268.31" stroke-width="1.1"/>
<line x1="33.6" y1="251.96" x2="35.8" y2="251.96" stroke-width="1.2"/>
<line x1="34.5" y1="235.61" x2="35.8" y2="235.61" stroke-width="1.1"/>
<line x1="33.6" y1="219.25" x2="35.8" y2="219.25" stroke-width="1.2"/>
<line x1="34.5" y1="202.90" x2="35.8" y2="202.90" stroke-width="1.1"/>
<line x1="33.6" y1="186.54" x2="35.8" y2="186.54" stroke-width="1.2"/>
<line x1="34.5" y1="170.19" x2="35.8" y2="170.19" stroke-width="1.1"/>
<line x1="33.6" y1="153.83" x2="35.8" y2="153.83" stroke-width="1.2"/>
<line x1="34.5" y1="137.48" x2="35.8" y2="137.48" stroke-width="1.1"/>
<line x1="33.6" y1="121.12" x2="35.8" y2="121.12" stroke-width="1.2"/>
<line x1="34.5" y1="104.77" x2="35.8" y2="104.77" stroke-width="1.1"/>
<line x1="33.6" y1="88.41" x2="35.8" y2="88.41" stroke-width="1.2"/>
<line x1="34.5" y1="72.06" x2="35.8" y2="72.06" stroke-width="1.1"/>
<line x1="33.6" y1="55.70" x2="35.8" y2="55.70" stroke-width="1.2"/>
<line x1="36.50" y1="383.2" x2="36.50" y2="387.6" stroke-width="1.3"/>
<line x1="106.12" y1="383.2" x2="106.12" y2="385.6" stroke-width="1.2"/>
<line x1="175.75" y1="383.2" x2="175.75" y2="387.6" stroke-width="1.3"/>
<line x1="245.38" y1="383.2" x2="245.38" y2="385.6" stroke-width="1.2"/>
<line x1="315.00" y1="383.2" x2="315.00" y2="387.6" stroke-width="1.3"/>
<line x1="384.62" y1="383.2" x2="384.62" y2="385.6" stroke-width="1.2"/>
<line x1="454.25" y1="383.2" x2="454.25" y2="387.6" stroke-width="1.3"/>
<line x1="523.88" y1="383.2" x2="523.88" y2="385.6" stroke-width="1.2"/>
<line x1="593.50" y1="383.2" x2="593.50" y2="387.6" stroke-width="1.3"/>
<line x1="663.12" y1="383.2" x2="663.12" y2="385.6" stroke-width="1.2"/>
<line x1="732.75" y1="383.2" x2="732.75" y2="387.6" stroke-width="1.3"/>
</g>
<g font-family='"Liberation Sans", sans-serif' font-weight="700" font-size="14px" fill="#000" text-anchor="end" letter-spacing="-0.85">
<text x="31.7" y="386.40">0</text>
<text x="32.4" y="355.09">10</text>
<text x="32.4" y="322.38">20</text>
<text x="32.4" y="289.67">30</text>
<text x="32.4" y="256.96">40</text>
<text x="32.4" y="224.25">50</text>
<text x="32.4" y="191.54">60</text>
<text x="32.4" y="158.83">70</text>
<text x="32.4" y="126.12">80</text>
<text x="32.4" y="93.41">90</text>
<text x="32.4" y="60.70">100</text>
</g>
<g font-family='"Liberation Sans", sans-serif' font-weight="700" font-size="14px" fill="#000" text-anchor="middle" letter-spacing="-0.85">
<text x="36.30" y="399.0">650</text>
<text x="175.55" y="399.0">700</text>
<text x="314.80" y="399.0">750</text>
<text x="454.05" y="399.0">800</text>
<text x="593.30" y="399.0">850</text>
<text x="732.55" y="399.0">900</text>
</g>
<text x="738" y="69.8" font-family='"Liberation Sans", sans-serif' font-weight="700" font-size="14px" fill="#000" letter-spacing="-0.85" clip-path="url(#clipA)">553</text>
<text transform="translate(404.2 424.0) scale(0.94 1)" font-family='"Liberation Sans", sans-serif' font-weight="700" font-size="16.6px" fill="#ff0000" text-anchor="middle">Mass (m/z)</text>
<text x="387.4" y="456.5" font-family='"Liberation Serif", serif' font-size="16px" fill="#000" text-anchor="middle">(<tspan font-weight="700">a</tspan>)</text>
</g>
<g id="chartB">
<g font-family='"Liberation Sans", sans-serif' font-size="15.8px" fill="#8b1515" stroke="#8b1515" stroke-width="0.2">
<text transform="translate(145.25 784.10) rotate(-90) scale(0.9 1)" dx="0 0 0 1 1 0">676.01</text>
<text transform="translate(199.70 797.30) rotate(-90) scale(0.9 1)" dx="0 0 0 1 1 0">692.03</text>
<text transform="translate(205.40 638.00) rotate(-90) scale(0.9 1)" dx="0 0 0 1 1 0">694.01</text>
<text transform="translate(243.50 769.40) rotate(-90) scale(0.9 1)" dx="0 0 0 1 1 0">704.96</text>
<text transform="translate(296.10 759.65) rotate(-90) scale(0.9 1)" dx="0 0 0 1 1 0">720.97</text>
<text transform="translate(307.60 610.20) rotate(-90) scale(0.9 1)" dx="0 0 0 1 1 0">723.96</text>
<text transform="translate(329.90 788.90) rotate(-90) scale(0.9 1)" dx="0 0 0 1 1 0">730.96</text>
<text transform="translate(371.55 790.30) rotate(-90) scale(0.9 1)" dx="0 0 0 1 1 0">743.09</text>
<text transform="translate(387.20 765.30) rotate(-90) scale(0.9 1)" dx="0 0 0 1 1 0">747.93</text>
<text transform="translate(392.80 529.40) rotate(-90) scale(0.9 1)" dx="0 0 0 1 1 0">749.54</text>
<text transform="translate(422.30 779.30) rotate(-90) scale(0.9 1)" dx="0 0 0 1 1 0">758.10</text>
<text transform="translate(434.90 794.00) rotate(-90) scale(0.9 1)" dx="0 0 0 1 1 0">761.92</text>
<text transform="translate(478.00 693.10) rotate(-90) scale(0.9 1)" dx="0 0 0 1 1 0">775.07</text>
<text transform="translate(488.40 648.70) rotate(-90) scale(0.9 1)" dx="0 0 0 1 1 0">777.90</text>
<text transform="translate(490.10 777.50) rotate(-90) scale(0.9 1)" dx="0 0 0 1 1 0">778.55</text>
<text transform="translate(586.90 802.90) rotate(-90) scale(0.9 1)" dx="0 0 0 1 1 0">807.47</text>
<text transform="translate(617.60 801.60) rotate(-90) scale(0.9 1)" dx="0 0 0 1 1 0">816.55</text>
<text transform="translate(660.05 789.40) rotate(-90) scale(0.9 1)" dx="0 0 0 1 1 0">829.01</text>
</g>
<path d="M53.5 827.37V810.51M54.5 822.43V810.50M55.5 822.48V813.72M56.5 822.52V801.53M57.5 821.81V811.82M58.5 825.44V810.08M59.5 833.78V811.39M60.5 821.44V811.54M61.5 833.16V808.67M62.5 831.08V808.47M63.5 822.32V809.13M64.5 822.39V814.28M65.5 823.57V814.36M66.5 822.40V813.99M67.5 822.84V810.56M68.5 822.94V812.69M69.5 823.56V812.79M70.5 832.20V811.83M71.5 829.49V811.91M72.5 824.80V810.86M73.5 824.86V810.89M74.5 825.66V810.89M75.5 825.62V815.02M76.5 825.53V810.02M77.5 825.02V814.44M78.5 824.85V803.84M79.5 826.60V812.62M80.5 826.44V812.37M81.5 825.45V809.81M82.5 828.24V809.50M83.5 824.05V807.21M84.5 832.08V811.82M85.5 824.46V811.49M86.5 822.70V811.27M87.5 819.14V810.97M88.5 825.78V810.71M89.5 819.82V807.94M90.5 821.97V805.86M91.5 821.87V804.35M92.5 819.47V808.51M93.5 828.35V808.53M94.5 822.53V806.85M95.5 822.67V811.67M96.5 822.57V812.10M97.5 822.81V804.65M98.5 823.09V811.49M99.5 824.12V811.78M100.5 826.99V808.17M101.5 824.30V808.95M102.5 823.74V803.58M103.5 823.27V809.97M104.5 823.52V810.06M105.5 823.73V813.54M106.5 824.59V809.78M107.5 826.01V814.61M108.5 826.97V804.54M109.5 825.63V813.17M110.5 829.22V813.15M111.5 824.79V804.31M112.5 831.76V812.21M113.5 824.24V811.03M114.5 824.09V801.82M115.5 824.52V806.84M116.5 824.36V809.01M117.5 824.91V810.77M118.5 824.76V812.64M119.5 823.53V812.51M120.5 827.08V809.90M121.5 826.18V809.80M122.5 825.60V809.73M123.5 826.35V813.27M124.5 820.60V809.31M125.5 824.58V804.95M126.5 820.15V813.31M127.5 820.62V810.54M128.5 822.70V808.34M129.5 822.72V809.86M130.5 822.74V809.02M131.5 822.92V813.15M132.5 823.83V808.99M133.5 822.62V801.38M134.5 827.62V807.40M135.5 822.97V807.37M136.5 824.23V812.51M137.5 824.17V809.99M138.5 824.11V802.01M139.5 824.05V808.97M140.5 822.27V810.36M141.5 830.61V802.26M142.5 822.27V808.80M143.5 822.26V811.84M144.5 823.13V809.16M145.5 823.16V809.19M146.5 823.21V811.24M147.5 822.34V800.37M148.5 824.89V804.16M149.5 823.04V801.22M150.5 823.16V813.43M151.5 823.95V810.43M152.5 823.62V800.79M153.5 823.78V807.04M154.5 823.65V809.83M155.5 823.70V806.39M156.5 823.44V811.09M157.5 823.43V811.09M158.5 820.80V809.38M159.5 820.73V808.30M160.5 824.36V808.88M161.5 824.25V808.77M162.5 824.12V809.78M163.5 820.76V811.63M164.5 820.62V811.49M165.5 827.35V809.17M166.5 823.22V807.15M167.5 823.11V811.91M168.5 823.37V811.30M169.5 825.19V811.26M170.5 830.23V808.82M171.5 819.55V808.36M172.5 819.63V811.19M173.5 819.75V811.31M174.5 823.71V801.66M175.5 826.83V807.18M176.5 830.98V805.95M177.5 823.43V807.60M178.5 821.75V811.01M179.5 821.99V813.46M180.5 822.23V813.70M181.5 822.45V814.16M182.5 823.56V814.35M183.5 823.72V808.73M184.5 825.03V810.40M185.5 825.81V809.21M186.5 823.17V812.14M187.5 823.16V812.12M188.5 826.91V808.74M189.5 823.98V813.08M190.5 824.58V814.26M191.5 827.40V803.37M192.5 826.96V809.05M193.5 824.57V811.84M194.5 824.38V811.42M195.5 827.62V810.97M196.5 824.36V810.51M197.5 823.82V805.86M198.5 823.72V811.51M199.5 826.89V808.04M200.5 820.48V805.64M201.5 827.01V811.27M202.5 823.28V812.46M203.5 823.42V812.77M204.5 825.05V810.35M205.5 821.73V810.80M206.5 825.60V813.05M207.5 827.77V813.35M208.5 831.60V812.68M209.5 824.65V812.89M210.5 826.47V813.04M211.5 824.09V812.45M212.5 829.49V811.84M213.5 824.13V811.87M214.5 824.12V809.63M215.5 825.08V802.15M216.5 826.69V811.00M217.5 826.60V813.87M218.5 826.49V811.39M219.5 824.93V803.56M220.5 826.18V807.36M221.5 825.85V810.79M222.5 823.72V809.60M223.5 823.62V810.19M224.5 824.34V810.10M225.5 824.27V810.03M226.5 825.33V806.13M227.5 825.38V811.95M228.5 828.36V811.91M229.5 827.84V811.86M230.5 822.97V811.79M231.5 823.74V799.91M232.5 826.60V807.67M233.5 822.25V804.58M234.5 823.98V813.01M235.5 823.96V812.80M236.5 823.92V812.59M237.5 824.70V806.97M238.5 827.30V806.77M239.5 824.31V809.18M240.5 824.27V809.27M241.5 821.75V805.57M242.5 824.75V802.95M243.5 824.47V809.46M244.5 824.93V805.88M245.5 824.91V803.67M246.5 824.77V808.76M247.5 823.00V811.91M248.5 820.60V812.01M249.5 822.43V812.10M250.5 822.51V812.21M251.5 824.42V812.33M252.5 821.26V812.48M253.5 821.43V806.89M254.5 821.62V806.22M255.5 821.82V810.24M256.5 824.27V810.45M257.5 824.48V807.87M258.5 825.30V810.45M259.5 824.83V810.63M260.5 828.48V808.85M261.5 823.18V811.26M262.5 823.26V811.34M263.5 828.02V804.25M264.5 822.38V812.30M265.5 822.32V812.23M266.5 822.21V805.70M267.5 824.42V811.87M268.5 824.22V811.64M269.5 823.98V812.16M270.5 823.71V811.84M271.5 823.42V812.34M272.5 820.80V811.95M273.5 829.65V808.74M274.5 825.09V811.17M275.5 824.80V810.72M276.5 819.97V810.26M277.5 819.73V809.80M278.5 819.53V809.70M279.5 820.04V809.27M280.5 819.92V808.86M281.5 820.56V801.21M282.5 822.78V803.29M283.5 822.39V802.84M284.5 823.90V800.47M285.5 827.31V804.38M286.5 820.30V804.24M287.5 823.12V803.06M288.5 823.83V793.57M289.5 830.83V802.96M290.5 822.59V803.51M291.5 822.66V809.16M292.5 821.23V809.22M293.5 821.26V799.53M294.5 821.27V808.09M295.5 823.86V804.58M296.5 823.52V804.18M297.5 823.49V804.18M298.5 827.74V802.24M299.5 827.06V802.42M300.5 821.24V810.35M301.5 821.26V810.55M302.5 820.37V799.68M303.5 820.45V796.82M304.5 825.27V811.25M305.5 822.66V808.50M306.5 822.79V809.03M307.5 820.33V805.81M308.5 820.47V810.40M309.5 824.32V810.75M310.5 824.45V805.07M311.5 820.55V813.19M312.5 820.66V809.87M313.5 825.02V809.97M314.5 828.94V806.48M315.5 825.80V810.59M316.5 825.28V810.48M317.5 826.58V810.29M318.5 824.55V810.13M319.5 824.17V809.80M320.5 825.27V809.41M321.5 822.84V809.00M322.5 823.13V808.58M323.5 822.96V799.78M324.5 822.89V807.39M325.5 823.59V802.76M326.5 823.48V806.83M327.5 823.41V806.49M328.5 824.82V806.58M329.5 824.38V806.83M330.5 822.65V808.84M331.5 822.74V797.71M332.5 821.78V804.45M333.5 821.48V806.70M334.5 822.09V806.18M335.5 822.29V808.40M336.5 827.71V808.76M337.5 825.40V809.08M338.5 827.85V809.37M339.5 824.43V811.65M340.5 821.47V810.31M341.5 828.06V810.49M342.5 825.00V803.24M343.5 826.18V813.27M344.5 825.95V813.32M345.5 823.90V812.70M346.5 823.88V804.99M347.5 826.46V811.63M348.5 826.37V811.61M349.5 828.69V811.25M350.5 822.08V811.08M351.5 828.65V810.89M352.5 824.24V810.63M353.5 830.30V800.54M354.5 821.68V808.65M355.5 821.52V808.34M356.5 821.90V810.24M357.5 824.58V809.94M358.5 827.48V809.63M359.5 822.01V809.32M360.5 821.97V810.66M361.5 822.66V805.22M362.5 822.68V807.48M363.5 824.04V798.08M364.5 822.16V808.66M365.5 820.29V808.74M366.5 820.38V808.89M367.5 824.08V809.42M368.5 824.17V798.78M369.5 824.25V808.89M370.5 822.70V809.11M371.5 822.73V809.23M372.5 822.73V809.23M373.5 825.42V803.26M374.5 824.47V808.66M375.5 824.37V808.17M376.5 826.33V803.49M377.5 825.98V807.80M378.5 821.92V800.08M379.5 822.48V802.30M380.5 823.28V805.02M381.5 823.17V799.15M382.5 823.10V801.27M383.5 823.08V800.56M384.5 823.11V800.10M385.5 823.20V797.81M386.5 824.55V800.39M387.5 821.85V800.85M388.5 821.02V807.32M389.5 826.44V801.59M390.5 823.95V791.28M391.5 823.22V805.38M392.5 826.31V805.14M393.5 824.52V806.39M394.5 824.76V807.54M395.5 824.96V797.57M396.5 825.15V812.75M397.5 825.81V805.55M398.5 825.85V812.53M399.5 822.92V812.76M400.5 822.86V814.51M401.5 826.10V807.29M402.5 825.29V810.17M403.5 823.01V810.00M404.5 825.16V803.47M405.5 824.97V811.87M406.5 830.53V811.07M407.5 822.60V810.83M408.5 822.42V805.16M409.5 822.27V809.22M410.5 824.63V809.54M411.5 824.86V811.77M412.5 828.05V794.90M413.5 824.50V806.26M414.5 820.56V804.87M415.5 827.25V811.72M416.5 820.42V800.02M417.5 823.82V801.60M418.5 823.82V808.96M419.5 820.71V808.92M420.5 822.13V801.67M421.5 822.15V807.76M422.5 824.38V807.92M423.5 824.38V808.12M424.5 823.40V799.75M425.5 823.72V805.47M426.5 823.66V805.85M427.5 822.57V804.98M428.5 822.48V806.16M429.5 827.07V810.24M430.5 822.44V810.39M431.5 822.93V810.51M432.5 822.84V808.19M433.5 824.12V812.45M434.5 822.97V811.76M435.5 825.88V811.82M436.5 823.18V804.40M437.5 819.57V810.87M438.5 819.63V810.98M439.5 823.30V812.38M440.5 826.51V812.53M441.5 825.70V809.96M442.5 825.18V808.13M443.5 825.35V810.54M444.5 824.52V812.08M445.5 821.98V812.25M446.5 822.14V810.53M447.5 822.27V804.94M448.5 822.38V807.13M449.5 824.98V809.74M450.5 821.72V811.14M451.5 825.76V801.75M452.5 827.04V809.06M453.5 825.65V813.09M454.5 822.77V802.87M455.5 822.73V808.24M456.5 823.57V811.02M457.5 825.50V805.96M458.5 825.34V809.95M459.5 825.18V809.61M460.5 825.02V809.22M461.5 830.69V806.04M462.5 823.67V808.47M463.5 822.99V807.90M464.5 819.68V807.26M465.5 823.17V794.83M466.5 823.75V797.51M467.5 825.13V802.47M468.5 822.17V801.45M469.5 822.76V805.93M470.5 822.24V801.65M471.5 822.23V797.84M472.5 823.74V805.90M473.5 823.74V805.55M474.5 823.76V801.60M475.5 823.40V777.90M476.5 823.42V805.99M477.5 823.44V796.95M478.5 823.46V799.79M479.5 823.21V798.65M480.5 830.93V799.43M481.5 824.36V802.52M482.5 821.49V801.78M483.5 821.50V802.47M484.5 824.48V803.39M485.5 826.81V804.27M486.5 823.52V805.08M487.5 827.93V806.33M488.5 821.01V805.75M489.5 826.43V806.34M490.5 823.39V808.98M491.5 823.46V809.33M492.5 825.87V809.63M493.5 824.11V809.89M494.5 824.21V805.15M495.5 824.32V806.02M496.5 824.43V805.86M497.5 823.72V808.00M498.5 829.23V809.68M499.5 824.17V809.77M500.5 824.22V806.90M501.5 821.45V806.34M502.5 822.76V812.05M503.5 825.48V813.74M504.5 825.41V813.67M505.5 824.10V813.58M506.5 823.99V813.47M507.5 820.31V809.47M508.5 827.05V809.96M509.5 823.39V809.40M510.5 823.26V809.26M511.5 823.14V809.14M512.5 823.75V805.38M513.5 827.13V808.85M514.5 829.69V812.05M515.5 827.48V806.23M516.5 822.31V811.72M517.5 823.50V811.79M518.5 823.62V805.99M519.5 823.77V809.02M520.5 823.95V811.26M521.5 827.14V810.24M522.5 820.81V810.46M523.5 821.04V809.10M524.5 821.27V810.10M525.5 824.13V808.66M526.5 828.11V813.82M527.5 828.36V813.96M528.5 825.39V814.08M529.5 825.50V811.02M530.5 826.57V811.04M531.5 825.01V811.01M532.5 822.21V812.57M533.5 826.12V812.46M534.5 826.05V814.31M535.5 828.27V814.49M536.5 821.71V814.31M537.5 824.92V814.12M538.5 824.80V809.95M539.5 827.78V809.67M540.5 825.37V803.18M541.5 821.66V807.26M542.5 821.88V807.37M543.5 825.55V807.15M544.5 825.60V796.65M545.5 825.61V806.78M546.5 824.21V806.37M547.5 828.69V811.61M548.5 826.60V809.16M549.5 821.93V809.28M550.5 824.42V809.81M551.5 824.50V803.55M552.5 824.39V809.02M553.5 824.45V809.23M554.5 824.49V809.44M555.5 828.38V812.63M556.5 824.18V812.73M557.5 824.37V814.01M558.5 825.71V810.89M559.5 826.19V810.92M560.5 822.32V810.92M561.5 821.22V809.94M562.5 821.96V801.04M563.5 821.80V808.85M564.5 821.64V805.21M565.5 821.50V812.44M566.5 820.15V808.73M567.5 827.19V808.67M568.5 822.81V812.16M569.5 820.00V811.24M570.5 820.01V805.97M571.5 821.68V808.61M572.5 824.43V802.17M573.5 821.55V812.16M574.5 823.30V812.14M575.5 823.43V810.13M576.5 826.90V813.42M577.5 831.28V813.56M578.5 824.89V810.12M579.5 824.56V810.25M580.5 828.27V810.97M581.5 821.92V811.07M582.5 824.17V808.77M583.5 823.29V809.49M584.5 823.32V810.97M585.5 823.34V810.99M586.5 825.42V810.98M587.5 822.38V810.96M588.5 827.89V810.93M589.5 821.41V810.90M590.5 828.87V803.59M591.5 824.21V810.14M592.5 825.16V810.26M593.5 825.15V814.12M594.5 825.16V810.82M595.5 822.59V807.20M596.5 822.63V813.87M597.5 822.69V811.53M598.5 825.37V811.60M599.5 825.45V808.72M600.5 827.10V807.48M601.5 827.91V812.56M602.5 826.15V812.64M603.5 826.20V811.59M604.5 826.24V811.62M605.5 829.08V811.63M606.5 823.26V811.75M607.5 823.69V811.69M608.5 822.36V809.78M609.5 822.23V811.15M610.5 822.07V806.97M611.5 821.89V805.48M612.5 823.28V807.30M613.5 821.73V813.28M614.5 821.49V808.67M615.5 824.14V813.41M616.5 823.88V813.25M617.5 823.61V812.98M618.5 825.35V812.66M619.5 822.85V811.97M620.5 822.75V805.05M621.5 820.96V806.61M622.5 819.49V803.67M623.5 818.77V805.97M624.5 817.22V804.92M625.5 816.69V805.06M626.5 814.94V803.62M627.5 815.08V804.27M628.5 815.23V804.41M629.5 816.59V802.17M630.5 813.33V798.69M631.5 822.24V802.92M632.5 818.39V803.18M633.5 813.75V799.29M634.5 814.14V803.59M635.5 818.65V804.11M636.5 827.48V807.97M637.5 819.04V802.10M638.5 819.26V805.57M639.5 820.36V801.27M640.5 826.32V809.70M641.5 823.80V810.18M642.5 820.63V810.35M643.5 822.48V805.84M644.5 822.42V809.39M645.5 824.09V807.67M646.5 822.55V803.59M647.5 822.38V804.43M648.5 826.73V798.71M649.5 820.29V804.34M650.5 820.22V807.64M651.5 823.95V807.46M652.5 819.37V807.37M653.5 819.45V810.01M654.5 826.76V807.47M655.5 820.04V802.58M656.5 821.43V796.58M657.5 821.64V809.30M658.5 820.92V809.71M659.5 828.41V808.21M660.5 822.42V808.72M661.5 825.06V804.08M662.5 827.78V811.71M663.5 826.47V811.67M664.5 826.69V810.42M665.5 824.40V810.77M666.5 824.80V812.28M667.5 822.46V812.83M668.5 822.63V806.22M669.5 827.66V812.43M670.5 827.82V813.35M671.5 827.98V813.23M672.5 830.79V814.02M673.5 824.12V814.19M674.5 826.70V814.36M675.5 826.53V814.53M676.5 826.70V815.09M677.5 826.87V813.57M678.5 825.67V813.74M679.5 826.87V814.99M680.5 827.00V813.01M681.5 826.75V817.66M682.5 825.00V816.38M683.5 825.52V810.73M684.5 829.36V815.86M685.5 830.38V810.71M686.5 833.84V811.72M687.5 832.16V806.02M688.5 834.61V816.02M689.5 825.32V816.40M690.5 826.84V811.12M691.5 826.60V814.20M692.5 830.25V813.96M693.5 829.92V815.92M694.5 827.69V815.87M695.5 827.44V816.03M696.5 827.22V815.89M697.5 823.98V814.22M698.5 824.23V814.07M699.5 824.13V810.83M700.5 824.08V812.10M701.5 824.09V812.10M702.5 829.87V803.20M703.5 825.82V811.66M704.5 825.98V811.83M705.5 826.52V811.43M706.5 826.76V811.67M707.5 824.63V808.73M708.5 824.91V814.69M709.5 826.77V816.85M710.5 827.33V813.61M711.5 829.20V815.66M712.5 828.15V812.05M713.5 834.78V815.50M714.5 826.35V815.34M715.5 829.02V812.06M716.5 829.08V814.44M717.5 829.10V807.90M718.5 828.04V812.90M719.5 827.98V816.00M720.5 825.70V815.90M721.5 828.65V816.62M722.5 827.84V813.09M723.5 827.69V812.94" fill="none" stroke="#000080" stroke-width="1.08"/>
<line x1="138.60" y1="820.67" x2="138.60" y2="784.06" stroke="#000080" stroke-width="1.30"/>
<line x1="192.80" y1="822.00" x2="192.80" y2="797.59" stroke="#000080" stroke-width="1.20"/>
<line x1="196.00" y1="821.40" x2="196.00" y2="802.31" stroke="#000080" stroke-width="1.20"/>
<line x1="199.60" y1="821.01" x2="199.60" y2="638.04" stroke="#000080" stroke-width="2.20"/>
<line x1="202.90" y1="821.19" x2="202.90" y2="735.91" stroke="#000080" stroke-width="1.30"/>
<line x1="205.90" y1="821.67" x2="205.90" y2="794.44" stroke="#000080" stroke-width="1.20"/>
<line x1="236.80" y1="821.20" x2="236.80" y2="768.64" stroke="#000080" stroke-width="1.30"/>
<line x1="239.60" y1="821.09" x2="239.60" y2="779.97" stroke="#000080" stroke-width="1.20"/>
<line x1="243.60" y1="820.98" x2="243.60" y2="790.35" stroke="#000080" stroke-width="1.20"/>
<line x1="281.50" y1="819.50" x2="281.50" y2="799.16" stroke="#000080" stroke-width="1.20"/>
<line x1="284.00" y1="819.45" x2="284.00" y2="771.78" stroke="#000080" stroke-width="1.20"/>
<line x1="287.10" y1="819.64" x2="287.10" y2="762.34" stroke="#000080" stroke-width="1.30"/>
<line x1="289.80" y1="819.89" x2="289.80" y2="759.20" stroke="#000080" stroke-width="1.30"/>
<line x1="294.00" y1="820.11" x2="294.00" y2="790.35" stroke="#000080" stroke-width="1.20"/>
<line x1="297.00" y1="820.07" x2="297.00" y2="666.99" stroke="#000080" stroke-width="1.30"/>
<line x1="300.30" y1="820.01" x2="300.30" y2="611.92" stroke="#000080" stroke-width="2.20"/>
<line x1="303.75" y1="820.17" x2="303.75" y2="738.74" stroke="#000080" stroke-width="1.30"/>
<line x1="306.50" y1="820.48" x2="306.50" y2="799.79" stroke="#000080" stroke-width="1.20"/>
<line x1="323.50" y1="820.58" x2="323.50" y2="788.15" stroke="#000080" stroke-width="1.30"/>
<line x1="327.70" y1="820.10" x2="327.70" y2="788.15" stroke="#000080" stroke-width="1.30"/>
<line x1="330.00" y1="820.10" x2="330.00" y2="802.31" stroke="#000080" stroke-width="1.00"/>
<line x1="358.00" y1="820.73" x2="358.00" y2="802.31" stroke="#000080" stroke-width="1.00"/>
<line x1="363.50" y1="820.63" x2="363.50" y2="797.59" stroke="#000080" stroke-width="1.20"/>
<line x1="365.20" y1="820.75" x2="365.20" y2="790.35" stroke="#000080" stroke-width="1.30"/>
<line x1="371.00" y1="821.21" x2="371.00" y2="799.16" stroke="#000080" stroke-width="1.00"/>
<line x1="375.50" y1="821.02" x2="375.50" y2="802.31" stroke="#000080" stroke-width="1.00"/>
<line x1="382.00" y1="820.18" x2="382.00" y2="794.44" stroke="#000080" stroke-width="1.40"/>
<line x1="385.50" y1="820.24" x2="385.50" y2="772.41" stroke="#000080" stroke-width="1.30"/>
<line x1="387.70" y1="820.64" x2="387.70" y2="762.97" stroke="#000080" stroke-width="1.40"/>
<line x1="392.00" y1="821.89" x2="392.00" y2="778.71" stroke="#000080" stroke-width="1.30"/>
<line x1="394.50" y1="822.56" x2="394.50" y2="794.44" stroke="#000080" stroke-width="1.20"/>
<line x1="380.80" y1="820.29" x2="380.80" y2="764.86" stroke="#000080" stroke-width="1.30"/>
<line x1="383.00" y1="820.13" x2="383.00" y2="791.29" stroke="#000080" stroke-width="1.50"/>
<line x1="384.40" y1="820.15" x2="384.40" y2="766.12" stroke="#000080" stroke-width="1.30"/>
<line x1="386.50" y1="820.39" x2="386.50" y2="523.80" stroke="#000080" stroke-width="1.60"/>
<line x1="389.20" y1="821.04" x2="389.20" y2="695.00" stroke="#000080" stroke-width="1.30"/>
<line x1="390.80" y1="821.52" x2="390.80" y2="741.57" stroke="#000080" stroke-width="1.30"/>
<line x1="393.30" y1="822.26" x2="393.30" y2="787.20" stroke="#000080" stroke-width="1.30"/>
<line x1="395.50" y1="822.75" x2="395.50" y2="797.59" stroke="#000080" stroke-width="1.00"/>
<line x1="398.00" y1="823.01" x2="398.00" y2="802.31" stroke="#000080" stroke-width="1.00"/>
<line x1="413.50" y1="821.08" x2="413.50" y2="799.16" stroke="#000080" stroke-width="1.50"/>
<line x1="415.60" y1="821.02" x2="415.60" y2="779.34" stroke="#000080" stroke-width="1.30"/>
<line x1="418.60" y1="821.06" x2="418.60" y2="790.67" stroke="#000080" stroke-width="1.20"/>
<line x1="424.00" y1="821.13" x2="424.00" y2="794.44" stroke="#000080" stroke-width="1.20"/>
<line x1="428.50" y1="820.85" x2="428.50" y2="794.44" stroke="#000080" stroke-width="1.20"/>
<line x1="444.80" y1="821.29" x2="444.80" y2="795.70" stroke="#000080" stroke-width="1.10"/>
<line x1="461.50" y1="820.68" x2="461.50" y2="799.16" stroke="#000080" stroke-width="1.00"/>
<line x1="465.80" y1="820.22" x2="465.80" y2="788.78" stroke="#000080" stroke-width="1.20"/>
<line x1="468.50" y1="820.07" x2="468.50" y2="710.10" stroke="#000080" stroke-width="1.30"/>
<line x1="471.70" y1="820.01" x2="471.70" y2="692.48" stroke="#000080" stroke-width="1.50"/>
<line x1="473.40" y1="820.02" x2="473.40" y2="725.21" stroke="#000080" stroke-width="1.30"/>
<line x1="475.30" y1="820.04" x2="475.30" y2="748.18" stroke="#000080" stroke-width="1.30"/>
<line x1="474.30" y1="820.03" x2="474.30" y2="744.09" stroke="#000080" stroke-width="1.40"/>
<line x1="476.30" y1="820.06" x2="476.30" y2="759.83" stroke="#000080" stroke-width="1.40"/>
<line x1="477.20" y1="820.08" x2="477.20" y2="766.12" stroke="#000080" stroke-width="1.20"/>
<line x1="479.30" y1="820.12" x2="479.30" y2="756.68" stroke="#000080" stroke-width="1.20"/>
<line x1="480.40" y1="820.14" x2="480.40" y2="744.09" stroke="#000080" stroke-width="1.20"/>
<line x1="482.60" y1="820.16" x2="482.60" y2="769.27" stroke="#000080" stroke-width="1.40"/>
<line x1="484.20" y1="820.17" x2="484.20" y2="785.00" stroke="#000080" stroke-width="1.40"/>
<line x1="486.50" y1="820.19" x2="486.50" y2="794.44" stroke="#000080" stroke-width="1.40"/>
<line x1="478.30" y1="820.10" x2="478.30" y2="706.33" stroke="#000080" stroke-width="1.30"/>
<line x1="480.00" y1="820.13" x2="480.00" y2="769.27" stroke="#000080" stroke-width="1.50"/>
<line x1="481.50" y1="820.15" x2="481.50" y2="647.48" stroke="#000080" stroke-width="1.40"/>
<line x1="483.20" y1="820.16" x2="483.20" y2="781.85" stroke="#000080" stroke-width="1.80"/>
<line x1="485.60" y1="820.18" x2="485.60" y2="776.50" stroke="#000080" stroke-width="1.30"/>
<line x1="487.00" y1="820.20" x2="487.00" y2="794.44" stroke="#000080" stroke-width="1.50"/>
<line x1="488.30" y1="820.23" x2="488.30" y2="797.59" stroke="#000080" stroke-width="1.20"/>
<line x1="580.80" y1="821.77" x2="580.80" y2="802.94" stroke="#000080" stroke-width="1.20"/>
<line x1="611.50" y1="821.81" x2="611.50" y2="801.99" stroke="#000080" stroke-width="1.20"/>
<line x1="653.20" y1="820.17" x2="653.20" y2="789.09" stroke="#000080" stroke-width="1.30"/>
<line x1="656.50" y1="820.65" x2="656.50" y2="799.16" stroke="#000080" stroke-width="1.00"/>
<g stroke="#000" fill="none">
<line x1="51.9" y1="523.4" x2="51.9" y2="844.0" stroke-width="1.6"/>
<line x1="51.1" y1="838.8" x2="725.9" y2="838.8" stroke-width="1.4"/>
<line x1="725.2" y1="524" x2="725.2" y2="844.0" stroke-width="1.4"/>
<line x1="49.3" y1="838.30" x2="51.9" y2="838.30" stroke-width="1.2"/>
<line x1="50.3" y1="822.58" x2="51.9" y2="822.58" stroke-width="1.1"/>
<line x1="49.3" y1="806.87" x2="51.9" y2="806.87" stroke-width="1.2"/>
<line x1="50.3" y1="791.15" x2="51.9" y2="791.15" stroke-width="1.1"/>
<line x1="49.3" y1="775.44" x2="51.9" y2="775.44" stroke-width="1.2"/>
<line x1="50.3" y1="759.72" x2="51.9" y2="759.72" stroke-width="1.1"/>
<line x1="49.3" y1="744.01" x2="51.9" y2="744.01" stroke-width="1.2"/>
<line x1="50.3" y1="728.29" x2="51.9" y2="728.29" stroke-width="1.1"/>
<line x1="49.3" y1="712.58" x2="51.9" y2="712.58" stroke-width="1.2"/>
<line x1="50.3" y1="696.87" x2="51.9" y2="696.87" stroke-width="1.1"/>
<line x1="49.3" y1="681.15" x2="51.9" y2="681.15" stroke-width="1.2"/>
<line x1="50.3" y1="665.43" x2="51.9" y2="665.43" stroke-width="1.1"/>
<line x1="49.3" y1="649.72" x2="51.9" y2="649.72" stroke-width="1.2"/>
<line x1="50.3" y1="634.00" x2="51.9" y2="634.00" stroke-width="1.1"/>
<line x1="49.3" y1="618.29" x2="51.9" y2="618.29" stroke-width="1.2"/>
<line x1="50.3" y1="602.57" x2="51.9" y2="602.57" stroke-width="1.1"/>
<line x1="49.3" y1="586.86" x2="51.9" y2="586.86" stroke-width="1.2"/>
<line x1="50.3" y1="571.14" x2="51.9" y2="571.14" stroke-width="1.1"/>
<line x1="49.3" y1="555.43" x2="51.9" y2="555.43" stroke-width="1.2"/>
<line x1="50.3" y1="539.71" x2="51.9" y2="539.71" stroke-width="1.1"/>
<line x1="49.3" y1="524.00" x2="51.9" y2="524.00" stroke-width="1.2"/>
<line x1="51.75" y1="838.8" x2="51.75" y2="844.0" stroke-width="1.3"/>
<line x1="119.00" y1="838.8" x2="119.00" y2="841.4" stroke-width="1.2"/>
<line x1="186.25" y1="838.8" x2="186.25" y2="844.0" stroke-width="1.3"/>
<line x1="253.50" y1="838.8" x2="253.50" y2="841.4" stroke-width="1.2"/>
<line x1="320.75" y1="838.8" x2="320.75" y2="844.0" stroke-width="1.3"/>
<line x1="388.00" y1="838.8" x2="388.00" y2="841.4" stroke-width="1.2"/>
<line x1="455.25" y1="838.8" x2="455.25" y2="844.0" stroke-width="1.3"/>
<line x1="522.50" y1="838.8" x2="522.50" y2="841.4" stroke-width="1.2"/>
<line x1="589.75" y1="838.8" x2="589.75" y2="844.0" stroke-width="1.3"/>
<line x1="657.00" y1="838.8" x2="657.00" y2="841.4" stroke-width="1.2"/>
<line x1="724.25" y1="838.8" x2="724.25" y2="844.0" stroke-width="1.3"/>
</g>
<g font-family='"Liberation Sans", sans-serif' font-weight="700" font-size="14px" fill="#000" text-anchor="end" letter-spacing="-0.85">
<text x="46.6" y="842.90">0</text>
<text x="48.9" y="811.57">10</text>
<text x="48.9" y="780.14">20</text>
<text x="48.9" y="748.71">30</text>
<text x="48.9" y="717.28">40</text>
<text x="48.9" y="685.85">50</text>
<text x="48.9" y="654.42">60</text>
<text x="48.9" y="622.99">70</text>
<text x="48.9" y="591.56">80</text>
<text x="48.9" y="560.13">90</text>
<text x="48.9" y="528.70">100</text>
</g>
<g font-family='"Liberation Sans", sans-serif' font-weight="700" font-size="14px" fill="#000" text-anchor="middle" letter-spacing="-0.85">
<text x="51.85" y="855.6">650</text>
<text x="186.35" y="855.6">690</text>
<text x="320.85" y="855.6">730</text>
<text x="455.35" y="855.6">770</text>
<text x="589.85" y="855.6">810</text>
<text x="724.35" y="855.6">850</text>
</g>
<text x="727.4" y="536.8" font-family='"Liberation Sans", sans-serif' font-weight="700" font-size="14px" fill="#000" letter-spacing="-0.85" clip-path="url(#clipB)">1.3E</text>
<text transform="translate(406.4 878.7) scale(0.915 1)" font-family='"Liberation Sans", sans-serif' font-weight="700" font-size="16.6px" fill="#ff0000" text-anchor="middle">Mass (m/z)</text>
<text x="387.4" y="907.8" font-family='"Liberation Serif", serif' font-size="16px" fill="#000" text-anchor="middle">(<tspan font-weight="700">b</tspan>)</text>
</g>
</svg>
</body></html>
